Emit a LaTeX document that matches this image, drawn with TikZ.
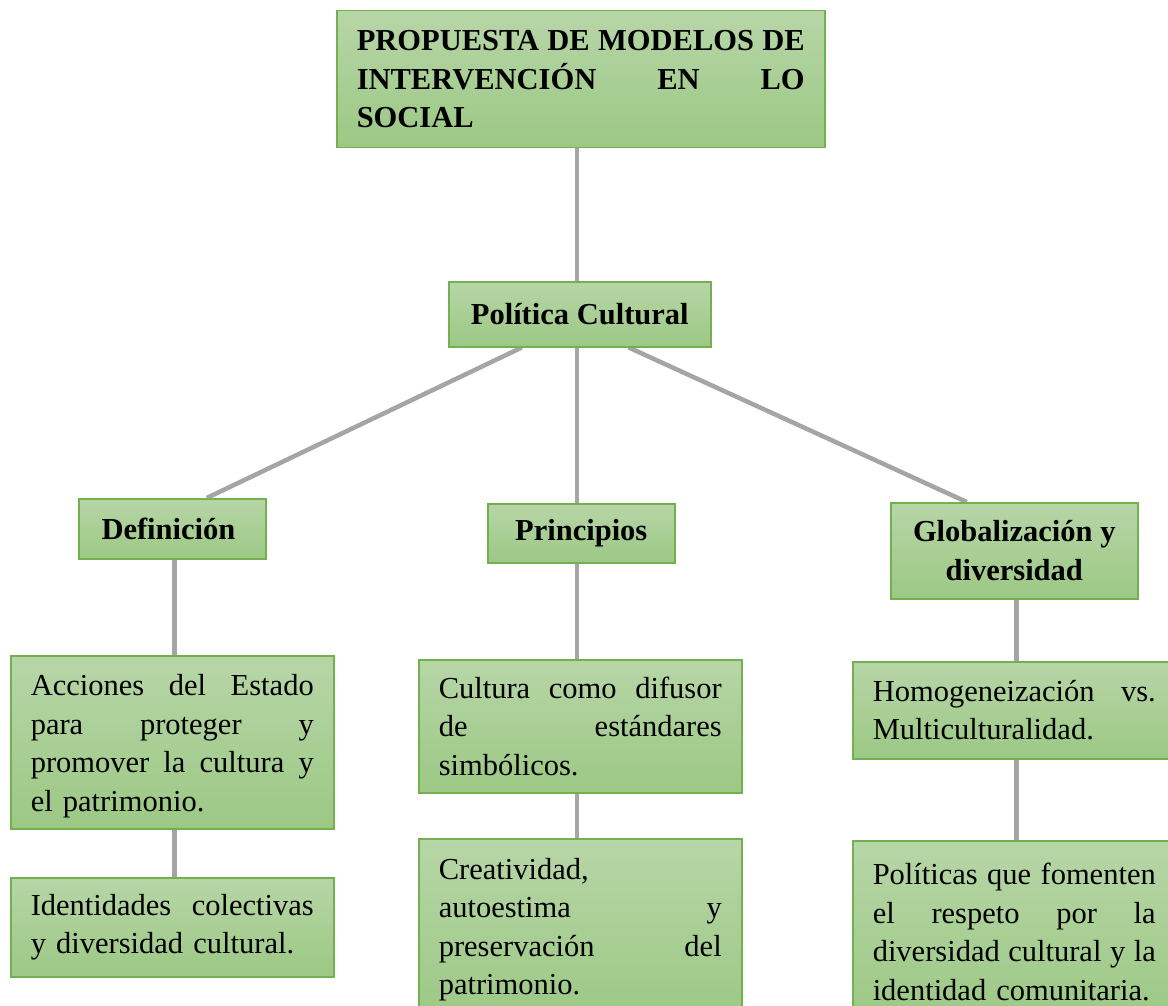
\documentclass[tikz,border=0pt]{standalone}
\usepackage{fontspec}
\setmainfont{Liberation Serif}
\usetikzlibrary{backgrounds}
\definecolor{gtop}{RGB}{183,214,167}
\definecolor{gbot}{RGB}{156,200,132}
\definecolor{gborder}{RGB}{116,176,80}
\definecolor{conngray}{RGB}{165,165,165}
\newcommand{\jl}[2][283pt]{\leavevmode\hbox to #1{\spaceskip=0.25em plus 10em minus 0.05em\relax #2}}
\tikzset{
  box/.style={draw=gborder, line width=1.5pt, top color=gtop, bottom color=gbot,
    inner xsep=20pt, inner ysep=0pt, anchor=north west,
    font=\fontsize{30.5}{38.5}\selectfont, align=left,
    execute at begin node={\setlength{\parindent}{0pt}}},
  boldbox/.style={box, font=\fontsize{30.5}{38.5}\selectfont\bfseries},
  conn/.style={draw=conngray, line width=4.5pt}
}
\begin{document}
\begin{tikzpicture}[x=1pt,y=-1pt]
\useasboundingbox (0,0) rectangle (1168,1006);
\clip (0,0) rectangle (1168,1006);
\node[boldbox, minimum width=488pt, minimum height=137pt, text width=448pt] (top) at (336,10)
  {\jl[448pt]{PROPUESTA DE MODELOS DE}\\ \jl[448pt]{INTERVENCIÓN EN LO}\\ SOCIAL};
\node[boldbox, align=center, minimum width=262pt, minimum height=65pt] (pc) at (448,281) {Política Cultural};
\node[boldbox, align=center, minimum width=187pt, minimum height=60pt] (def) at (78,498) {Definición\hspace{7.6pt}};
\node[boldbox, align=center, minimum width=187pt, minimum height=59pt] (pri) at (487,503) {Principios};
\node[boldbox, align=center, minimum width=247pt, minimum height=96pt] (glo) at (890,502) {Globalización y\\diversidad};
\node[box, minimum width=323pt, minimum height=173pt, text width=283pt] (acc) at (10,655)
  {\rule{0pt}{29pt}\jl{Acciones del Estado}\\ \jl{para proteger y}\\ \jl{promover la cultura y}\\ el patrimonio.};
\node[box, minimum width=323pt, minimum height=99pt, text width=283pt] (ide) at (10,877)
  {\jl{Identidades colectivas}\\ y diversidad cultural.};
\node[box, minimum width=323pt, minimum height=133pt, text width=283pt] (cul) at (418,659)
  {\jl{Cultura como difusor}\\ \jl{de estándares}\\ simbólicos.};
\node[box, minimum width=323pt, minimum height=182pt, text width=283pt] (cre) at (418,838)
  {Creatividad,\\ \jl{autoestima y}\\ \jl{preservación del}\\ patrimonio.};
\node[box, minimum width=323pt, minimum height=97pt, text width=283pt] (hom) at (852,661)
  {\jl{Homogeneización vs.}\\ Multiculturalidad.};
\node[box, minimum width=323pt, minimum height=182pt, text width=283pt] (pol) at (852,840)
  {\jl{Políticas que fomenten}\\ \jl{el respeto por la}\\ \jl{diversidad cultural y la}\\ identidad comunitaria.};
\begin{scope}[on background layer]
\draw[conn] ([xshift=-4pt]top.south) -- ([xshift=-3pt]pc.north);
\draw[conn] ([xshift=-58pt]pc.south) -- ([xshift=34.5pt]def.north);
\draw[conn] ([xshift=-3pt]pc.south) -- ([xshift=-4.5pt]pri.north);
\draw[conn] ([xshift=49pt]pc.south) -- ([xshift=-47.5pt]glo.north);
\draw[conn] ([xshift=2pt]def.south) -- ([xshift=2pt]acc.north);
\draw[conn] ([xshift=2pt]acc.south) -- ([xshift=2pt]ide.north);
\draw[conn] ([xshift=-4.5pt]pri.south) -- ([xshift=-3.5pt]cul.north);
\draw[conn] ([xshift=-3.5pt]cul.south) -- ([xshift=-3.5pt]cre.north);
\draw[conn] ([xshift=2pt]glo.south) -- ([xshift=2pt]hom.north);
\draw[conn] ([xshift=2pt]hom.south) -- ([xshift=2pt]pol.north);
\end{scope}
\end{tikzpicture}
\end{document}
